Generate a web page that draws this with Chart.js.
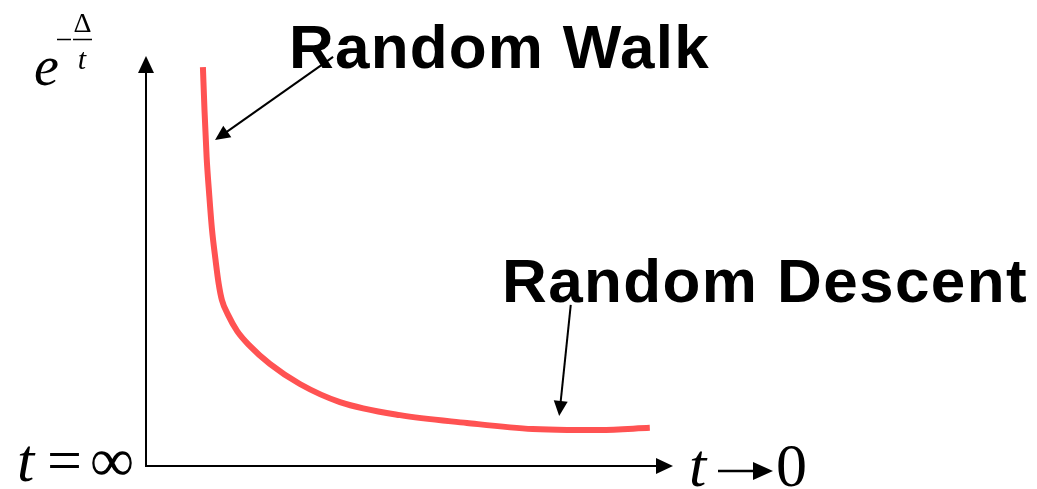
<!DOCTYPE html>
<html>
<head>
<meta charset="utf-8">
<script src="https://cdn.jsdelivr.net/npm/chart.js@4"></script>
<style>
  html, body { margin: 0; padding: 0; background: #fff; }
  canvas { display: block; }
</style>
</head>
<body>
<canvas id="annealChart" width="1037" height="489"></canvas>
<script>
// acceptance probability curve, x = time axis (0..100), y = probability (0..100)
const curveX = [10.8, 11.1, 11.5, 12.0, 12.5, 13.2, 13.8, 14.4, 15.6, 17.3, 19.7, 23.5, 29.2, 36.8, 48.2, 60.9, 73.4, 79.9, 86.1, 95.6];
const curveY = [97.3, 86.8, 75.4, 66.1, 58.0, 50.2, 44.4, 40.5, 36.8, 32.9, 29.3, 24.9, 20.0, 15.6, 12.4, 10.5, 9.0, 8.8, 8.8, 9.3];

// callouts: label, where the arrow starts, where it points on the curve
const calloutNames = ['Random Walk', 'Random Descent'];
const calloutFrom = [[35.5, 99.8], [80.6, 39.3]];
const calloutTo = [[13.1, 79.5], [78.4, 12.2]];

const RED = '#ff5252';
const INK = '#000';

function arrowHead(ctx, x0, y0, x1, y1, len, half) {
    const a = Math.atan2(y1 - y0, x1 - x0);
    ctx.beginPath();
    ctx.moveTo(x1, y1);
    ctx.lineTo(x1 - len * Math.cos(a) + half * Math.sin(a), y1 - len * Math.sin(a) - half * Math.cos(a));
    ctx.lineTo(x1 - len * Math.cos(a) - half * Math.sin(a), y1 - len * Math.sin(a) + half * Math.cos(a));
    ctx.closePath();
    ctx.fill();
}

function arrow(ctx, x0, y0, x1, y1, width, len, half) {
    const a = Math.atan2(y1 - y0, x1 - x0);
    ctx.lineWidth = width;
    ctx.beginPath();
    ctx.moveTo(x0, y0);
    ctx.lineTo(x1 - (len - 2) * Math.cos(a), y1 - (len - 2) * Math.sin(a));
    ctx.stroke();
    arrowHead(ctx, x0, y0, x1, y1, len, half);
}

const decorations = {
    id: 'decorations',
    afterDraw(chart) {
        const { ctx, chartArea: area, scales } = chart;
        const sx = v => scales.x.getPixelForValue(v);
        const sy = v => scales.y.getPixelForValue(v);
        ctx.save();
        ctx.strokeStyle = INK;
        ctx.fillStyle = INK;
        ctx.lineCap = 'butt';

        // axes with arrowheads
        arrow(ctx, area.left, area.bottom + 1, area.left, area.top, 2, 17, 8);
        arrow(ctx, area.left - 1, area.bottom, area.right, area.bottom, 2, 17, 8);

        // callout arrows
        calloutFrom.forEach((p, i) => {
            const q = calloutTo[i];
            arrow(ctx, sx(p[0]), sy(p[1]), sx(q[0]), sy(q[1]), 2, 15, 7);
        });

        // callout labels
        ctx.font = 'bold 62px "Liberation Sans", Arial, sans-serif';
        ctx.textBaseline = 'alphabetic';
        ctx.letterSpacing = '1.2px';
        ctx.fillText(calloutNames[0], 289, 68);
        ctx.letterSpacing = '1.4px';
        ctx.fillText(calloutNames[1], 502, 302);
        ctx.letterSpacing = '0px';

        // y axis label: e^(-Δ/t)
        const serif = '"Liberation Serif", "Times New Roman", serif';
        ctx.font = 'italic 56px ' + serif;
        ctx.fillText('e', 34, 85);
        ctx.lineWidth = 1.5;
        ctx.beginPath();
        ctx.moveTo(57, 39.5); ctx.lineTo(71, 39.5);
        ctx.moveTo(73, 39.5); ctx.lineTo(92, 39.5);
        ctx.stroke();
        ctx.font = '28px ' + serif;
        ctx.textAlign = 'center';
        ctx.fillText('\u0394', 82.5, 32);
        ctx.font = 'italic 30px ' + serif;
        ctx.fillText('t', 82, 69);
        ctx.textAlign = 'left';

        // x axis end labels
        ctx.font = 'italic 62px ' + serif;
        ctx.fillText('t', 17, 481);
        ctx.fillText('t', 689, 486);
        ctx.font = '62px ' + serif;
        ctx.fillText('=', 47, 481);
        ctx.fillText('\u221e', 90, 481);
        ctx.fillText('0', 776, 486);
        // arrow between t and 0
        arrow(ctx, 718, 471, 773, 471, 2.5, 20, 9);
        ctx.restore();
    }
};

new Chart(document.getElementById('annealChart'), {
    type: 'line',
    data: {
        datasets: [{
            data: curveX.map((x, i) => ({ x: x, y: curveY[i] })),
            borderColor: RED,
            borderWidth: 6,
            pointRadius: 0,
            cubicInterpolationMode: 'monotone',
            fill: false
        }]
    },
    options: {
        responsive: false,
        animation: false,
        layout: { padding: { left: 146, top: 56, right: 364, bottom: 23 } },
        scales: {
            x: { type: 'linear', min: 0, max: 100, display: false },
            y: { type: 'linear', min: 0, max: 100, display: false }
        },
        plugins: {
            legend: { display: false },
            tooltip: { enabled: false }
        }
    },
    plugins: [decorations]
});
</script>
</body>
</html>
